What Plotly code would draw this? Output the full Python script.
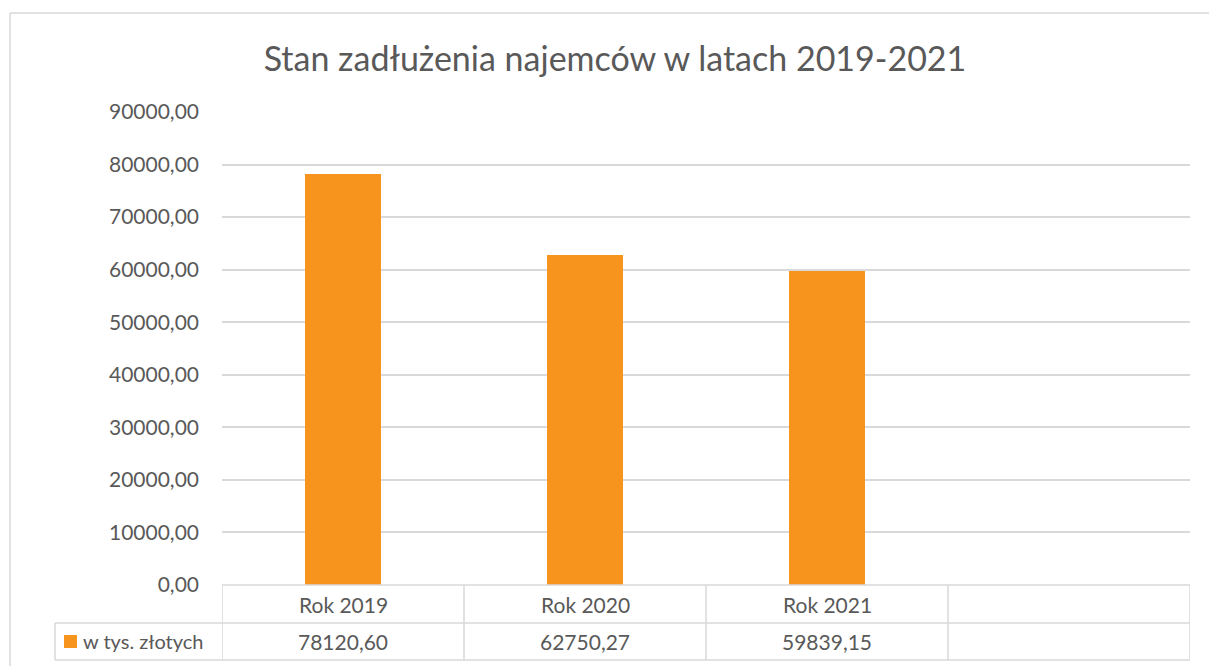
import plotly.graph_objects as go

categories = ["Rok 2019", "Rok 2020", "Rok 2021", ""]
values = [78120.60, 62750.27, 59839.15, None]
series_name = "w tys. złotych"
title = "Stan zadłużenia najemców w latach 2019-2021"

W, H = 1209, 666
L, R, T, B = 222, 1190, 112, 585
pw, ph = R - L, B - T
TXT = "#595959"
GRID = "#d9d9d9"
ORANGE = "#F7941E"
FONT = "Lato"
FS = 21

def px(x):
    return (x - L) / pw

def py(y):
    return (B - y) / ph

xs = list(range(len(categories)))
fig = go.Figure()
fig.add_trace(go.Bar(x=xs, y=[v if v is not None else 0 for v in values],
                     marker=dict(color=ORANGE, line=dict(width=0)),
                     width=0.314, name=series_name, showlegend=False,
                     hoverinfo="skip"))

shapes = []
ann = []
line = dict(color=GRID, width=1.5)
# outer chart border (top and left edges visible)
shapes.append(dict(type="line", xref="paper", yref="paper", x0=px(10), x1=px(1215),
                   y0=py(13), y1=py(13), line=line))
shapes.append(dict(type="line", xref="paper", yref="paper", x0=px(10), x1=px(10),
                   y0=py(13), y1=py(670), line=line))
for y in (623, 660):
    shapes.append(dict(type="line", xref="paper", yref="paper", x0=px(55), x1=1,
                       y0=py(y), y1=py(y), line=line))
shapes.append(dict(type="line", xref="paper", yref="paper", x0=0, x1=1,
                   y0=0, y1=0, line=line))
for i in range(len(categories) + 1):
    shapes.append(dict(type="line", xref="x", yref="paper", x0=i - 0.5, x1=i - 0.5,
                       y0=py(660), y1=0, line=line))
shapes.append(dict(type="line", xref="paper", yref="paper", x0=px(55), x1=px(55),
                   y0=py(660), y1=py(623), line=line))
# legend swatch
shapes.append(dict(type="rect", xref="paper", yref="paper", x0=px(64), x1=px(77),
                   y0=py(648), y1=py(635), fillcolor=ORANGE, line=dict(width=0)))

for i, (c, v) in enumerate(zip(categories, values)):
    if c:
        ann.append(dict(x=i, y=py(604), xref="x", yref="paper", text=c, showarrow=False,
                        font=dict(family=FONT, size=FS, color=TXT), xanchor="center", yanchor="middle"))
    if v is not None:
        s = f"{v:.2f}".replace(".", ",")
        ann.append(dict(x=i, y=py(641), xref="x", yref="paper", text=s, showarrow=False,
                        font=dict(family=FONT, size=FS, color=TXT), xanchor="center", yanchor="middle"))
ann.append(dict(x=px(81), y=py(641), xref="paper", yref="paper", text=series_name, showarrow=False,
                font=dict(family=FONT, size=20, color=TXT), xanchor="left", yanchor="middle"))

fig.update_layout(
    width=W, height=H,
    margin=dict(l=L, r=W - R, t=T, b=H - B, pad=0),
    paper_bgcolor="white", plot_bgcolor="white",
    separators=", ",
    title=dict(text=title, xref="container", x=615 / W, xanchor="center",
               yref="container", y=1 - 59 / H, yanchor="middle",
               font=dict(family=FONT, size=34, color=TXT)),
    xaxis=dict(range=[-0.5, len(categories) - 0.5], showticklabels=False, showgrid=False,
               zeroline=False, showline=False, fixedrange=True),
    yaxis=dict(range=[0, 90000], dtick=10000, tickformat=".2f", showgrid=True, gridcolor=GRID,
               gridwidth=1.5, zeroline=False, showline=False, ticks="",
               ticklabelstandoff=22,
               tickfont=dict(family=FONT, size=FS, color=TXT)),
    shapes=shapes, annotations=ann, bargap=0,
)
fig.write_html("out.html", config={"displayModeBar": False},
               post_script="document.body.style.margin='0';document.body.style.overflow='hidden';")
